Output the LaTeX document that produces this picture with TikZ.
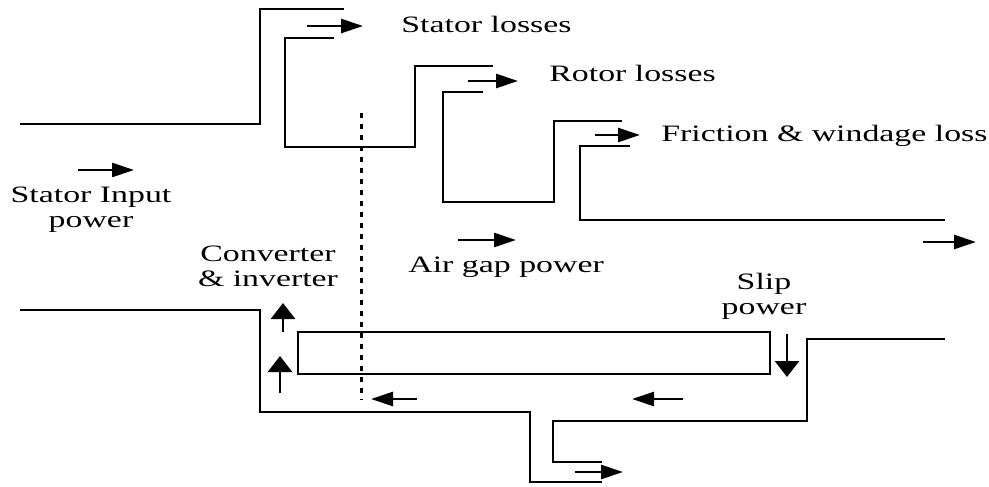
\documentclass[tikz,border=0pt]{standalone}
\usepackage{fontspec}
\setmainfont{Liberation Serif}[FakeStretch=1.44]
\usetikzlibrary{arrows.meta}

\begin{document}
\begin{tikzpicture}[x=1pt, y=-1pt, line width=2.8pt,
  every node/.style={font=\fontsize{23.5}{25}\selectfont, inner sep=0pt},
  harrow/.style={-{Triangle[length=22pt,width=14pt]}},
  varrow/.style={-{Triangle[length=16pt,width=24pt]}},
  gapline/.style={line width=3pt, dash pattern=on 5pt off 6pt}]
\useasboundingbox (0,0) rectangle (989,487);
% stator
\draw (20,124) -| (260,9) -- (344,9);
\draw (334,38) -| (285,147) -| (415,66) -- (493,66);
% rotor
\draw (483,92) -| (443,202) -| (554,121) -- (622,121);
% shaft
\draw (630,146) -| (580,220) -- (945,220);
% slip power loop
\draw (20,310) -| (260,412) -| (530,482) -- (602,482);
\draw (602,462) -| (553,421) -| (807,339) -- (945,339);
\draw (298,332) rectangle (770,374);
% air gap
\draw[gapline] (361,113) -- (361,400);

% arrows
\draw[harrow] (307,26) -- (363,26);
\draw[harrow] (468,81) -- (518,81);
\draw[harrow] (595,135) -- (640,135);
\draw[harrow] (923,242) -- (976,242);
\draw[harrow] (458,240) -- (516,240);
\draw[harrow] (78,170) -- (134,170);
\draw[harrow] (683,399) -- (632,399);
\draw[harrow] (417,399) -- (371,399);
\draw[harrow] (575,472) -- (623,472);
\draw[varrow] (283,332) -- (283,303);
\draw[varrow] (280,393) -- (280,356);
\draw[varrow] (787,334) -- (787,377);

% labels
\node[anchor=base west] (sl) at (400,33) {Stator losses};
\node[anchor=base west] (rl) at (548,82) {Rotor losses};
\node[anchor=base west] (fw) at (660,141) {Friction \& windage loss};
\node[anchor=base west] (ag) at (407,272) {Air gap power};
\node[align=center] (si) at (91,210) {Stator Input\\power};
\node[align=center] (ci) at (268,266) {Converter\\\& inverter};
\node[align=center] (sp) at (764,296) {Slip\\power};
\end{tikzpicture}
\end{document}
